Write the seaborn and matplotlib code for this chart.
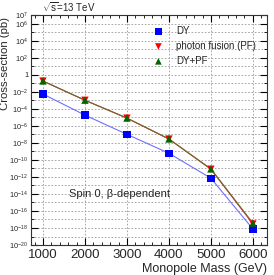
import numpy as np
import pandas as pd
import matplotlib
matplotlib.use("Agg")
import matplotlib.pyplot as plt
import matplotlib.ticker as mticker
import seaborn as sns

mass = [1000, 2000, 3000, 4000, 5000, 6000]
xs_dy = [5.4e-3, 1.8e-5, 1.0e-7, 6.0e-10, 7.0e-13, 7.6e-19]
xs_pf = [1.8e-1, 1.0e-3, 8.0e-6, 2.8e-8, 8.0e-12, 3.0e-18]
xs_sum = [1.85e-1, 1.02e-3, 8.1e-6, 2.86e-8, 8.7e-12, 3.76e-18]
labels = ["DY", "photon fusion (PF)", "DY+PF"]

sns.set_theme(style="ticks")
plt.rcParams['font.family'] = ['Liberation Sans', 'DejaVu Sans']
plt.rcParams['mathtext.fontset'] = 'custom'
plt.rcParams['mathtext.rm'] = 'Liberation Sans'
plt.rcParams['mathtext.it'] = 'Liberation Sans'

df = pd.DataFrame({
    "mass": mass * 3,
    "xs": xs_dy + xs_pf + xs_sum,
    "process": [labels[0]] * 6 + [labels[1]] * 6 + [labels[2]] * 6,
})

fig = plt.figure(figsize=(2.74, 2.75), dpi=100)
ax = fig.add_axes([0.113, 0.109, 0.861, 0.836])

line_cols = {labels[0]: "#6f6fff", labels[1]: "#d03030", labels[2]: "#6e6a2e"}
mk_cols = {labels[0]: "#0000ff", labels[1]: "#ff0000", labels[2]: "#006600"}
markers = {labels[0]: "s", labels[1]: "v", labels[2]: "^"}

sns.lineplot(data=df, x="mass", y="xs", hue="process", palette=line_cols,
             linewidth=0.8, legend=False, ax=ax)
for lab in labels:
    sub = df[df.process == lab]
    sns.scatterplot(data=sub, x="mass", y="xs", color=mk_cols[lab],
                    marker=markers[lab], s=28, edgecolor="none",
                    label=lab, ax=ax, zorder=5)

ax.set_yscale("log")
ax.set_ylim(1e-20, 1e7)
ax.set_xlim(714, 6333)

yt = [10.0**e for e in range(-20, 7, 2)] + [1e7]
ax.yaxis.set_major_locator(mticker.FixedLocator(yt))
ax.yaxis.set_minor_locator(mticker.FixedLocator([10.0**e for e in range(-20, 8)]))
ax.yaxis.set_minor_formatter(mticker.NullFormatter())

def yfmt(v, pos):
    e = int(round(np.log10(v)))
    if e == 0:
        return "1"
    return r"$10^{%d}$" % e
ax.yaxis.set_major_formatter(mticker.FuncFormatter(yfmt))

ax.xaxis.set_major_locator(mticker.FixedLocator(mass))
ax.xaxis.set_minor_locator(mticker.MultipleLocator(200))

ax.grid(True, which="major", axis="x", linestyle=(0, (2, 2)), color="#999999", linewidth=0.6)
ax.grid(True, which="minor", axis="y", linestyle=(0, (2, 2)), color="#999999", linewidth=0.6)
ax.grid(True, which="major", axis="y", linestyle=(0, (2, 2)), color="#999999", linewidth=0.6)

ax.tick_params(which="both", direction="in", top=True, right=True, color="black")
ax.tick_params(which="major", length=5, width=0.8)
ax.tick_params(which="minor", length=2.5, width=0.6)
ax.tick_params(axis="x", labelsize=9.5, pad=3)
ax.tick_params(axis="y", labelsize=5.3, pad=2)
for sp in ax.spines.values():
    sp.set_linewidth(0.8)
    sp.set_color("#333333")

ax.set_xlabel("Monopole Mass (GeV)", fontsize=9, loc="right", labelpad=1)
ax.set_ylabel("Cross-section (pb)", fontsize=8.2, loc="top")
ax.yaxis.set_label_coords(-0.087, 0.99)

fig.text(0.153, 0.975, r"$\sqrt{s}$=13 TeV", fontsize=7, va="center", ha="left")
ax.text(1620, 1e-14, "Spin 0, β-dependent", fontsize=8, va="center", ha="left")

leg = ax.legend(loc="upper right", bbox_to_anchor=(0.99, 0.99), frameon=False,
                fontsize=7, handletextpad=0.8, labelspacing=0.5, markerscale=0.9)

fig.savefig("out.png", dpi=100)
